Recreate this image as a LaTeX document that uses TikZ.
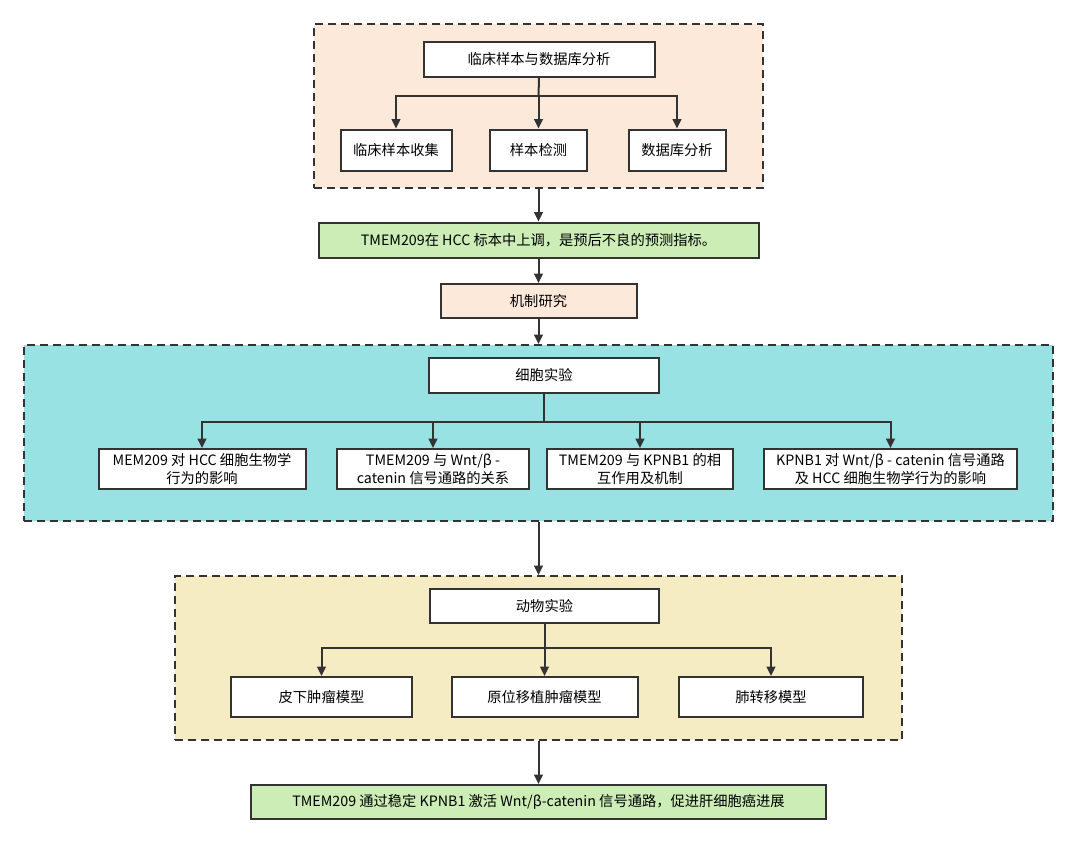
\documentclass[tikz,border=0pt]{standalone}
\usepackage{fontspec}
\setmainfont{Noto Sans CJK SC}
\usetikzlibrary{arrows.meta}
\definecolor{color_flow_line}{HTML}{333333}
\definecolor{color_flow_peach}{HTML}{FCE9DA}
\definecolor{color_flow_green}{HTML}{CDEDB7}
\definecolor{color_flow_cyan}{HTML}{98E2E4}
\definecolor{color_flow_yellow}{HTML}{F6ECC3}
\def\flowlinewidth{1.5pt}
\def\flowpx{0.75pt}
\tikzset{
    flowsize/.style 2 args={minimum width=#1*\flowpx, minimum height=#2*\flowpx},
    flowgroup/.style={draw=color_flow_line, line width=\flowlinewidth, dash pattern=on 6pt off 3.75pt, inner sep=0},
    flowbox/.style={draw=color_flow_line, line width=\flowlinewidth, fill=white, inner sep=0, align=center, font=\fontsize{10.7pt}{13.5pt}\selectfont},
    flowarrow/.style={draw=color_flow_line, line width=\flowlinewidth, -{Triangle[length=7pt,width=6.5pt]}},
    flowline/.style={draw=color_flow_line, line width=\flowlinewidth}
}

\begin{document}
\begin{tikzpicture}[x=\flowpx, y=-\flowpx]
        \fill[white] (0,0) rectangle (1077,843);
        \useasboundingbox (0,0) rectangle (1077,843);
        % clinical part
        \node[flowgroup, fill=color_flow_peach, flowsize={449}{164}] (clingroup) at (538.5,106) {};
        \node[flowbox, flowsize={231}{35}] (clin) at (539,59.5) {临床样本与数据库分析};
        \node[flowbox, flowsize={111}{41}] (collect) at (396,150) {临床样本收集};
        \node[flowbox, flowsize={97}{41}] (detect) at (538.5,150) {样本检测};
        \node[flowbox, flowsize={97}{41}] (dbase) at (677,150) {数据库分析};
        \coordinate (clinsplit) at (538.5,96);
        \draw[flowline] (clin.south) -- (clinsplit);
        \draw[flowarrow] (clinsplit) -| (collect.north);
        \draw[flowarrow] (clinsplit) -- (detect.north);
        \draw[flowarrow] (clinsplit) -| (dbase.north);
        % findings and mechanism
        \node[flowbox, fill=color_flow_green, flowsize={440}{35}] (finding) at (538.5,240) {TMEM209在 HCC 标本中上调，是预后不良的预测指标。};
        \node[flowbox, fill=color_flow_peach, flowsize={196}{34}] (mech) at (538.5,301) {机制研究};
        \draw[flowarrow] (clingroup.south) -- (finding.north);
        \draw[flowarrow] (finding.south) -- (mech.north);
        % cell experiments
        \node[flowgroup, fill=color_flow_cyan, flowsize={1029}{176}] (cellgroup) at (538.5,433) {};
        \node[flowbox, flowsize={230}{35}] (cell) at (544,375.5) {细胞实验};
        \node[flowbox, flowsize={207}{40}] (cellone) at (202,469) {MEM209 对 HCC 细胞生物学\\行为的影响};
        \node[flowbox, flowsize={192}{40}] (celltwo) at (433,469) {TMEM209 与 Wnt/β -\\catenin 信号通路的关系};
        \node[flowbox, flowsize={186}{40}] (cellthree) at (640,469) {TMEM209 与 KPNB1 的相\\互作用及机制};
        \node[flowbox, flowsize={253}{40}] (cellfour) at (890.5,469) {KPNB1 对 Wnt/β - catenin 信号通路\\及 HCC 细胞生物学行为的影响};
        \draw[flowarrow] (mech.south) -- (cellgroup.north);
        \coordinate (cellsplit) at (544,421.5);
        \draw[flowline] (cell.south) -- (cellsplit);
        \foreach \n in {cellone,celltwo,cellthree,cellfour}
            \draw[flowarrow] (cellsplit) -| (\n.north);
        % animal experiments
        \node[flowgroup, fill=color_flow_yellow, flowsize={727}{164}] (animalgroup) at (538.5,658) {};
        \node[flowbox, flowsize={229}{34}] (animal) at (544.5,606) {动物实验};
        \node[flowbox, flowsize={181}{40}] (subcut) at (321.5,697) {皮下肿瘤模型};
        \node[flowbox, flowsize={186}{40}] (ortho) at (544.5,697) {原位移植肿瘤模型};
        \node[flowbox, flowsize={184}{40}] (lung) at (771,697) {肺转移模型};
        \draw[flowarrow] (cellgroup.south) -- (animalgroup.north);
        \coordinate (animalsplit) at (544.5,648);
        \draw[flowline] (animal.south) -- (animalsplit);
        \draw[flowarrow] (animalsplit) -| (subcut.north);
        \draw[flowarrow] (animalsplit) -- (ortho.north);
        \draw[flowarrow] (animalsplit) -| (lung.north);
        % conclusion
        \node[flowbox, fill=color_flow_green, flowsize={575}{34}] (conclusion) at (538.5,802) {TMEM209 通过稳定 KPNB1 激活 Wnt/β-catenin 信号通路，促进肝细胞癌进展};
        \draw[flowarrow] (animalgroup.south) -- (conclusion.north);
    \end{tikzpicture}
\end{document}
